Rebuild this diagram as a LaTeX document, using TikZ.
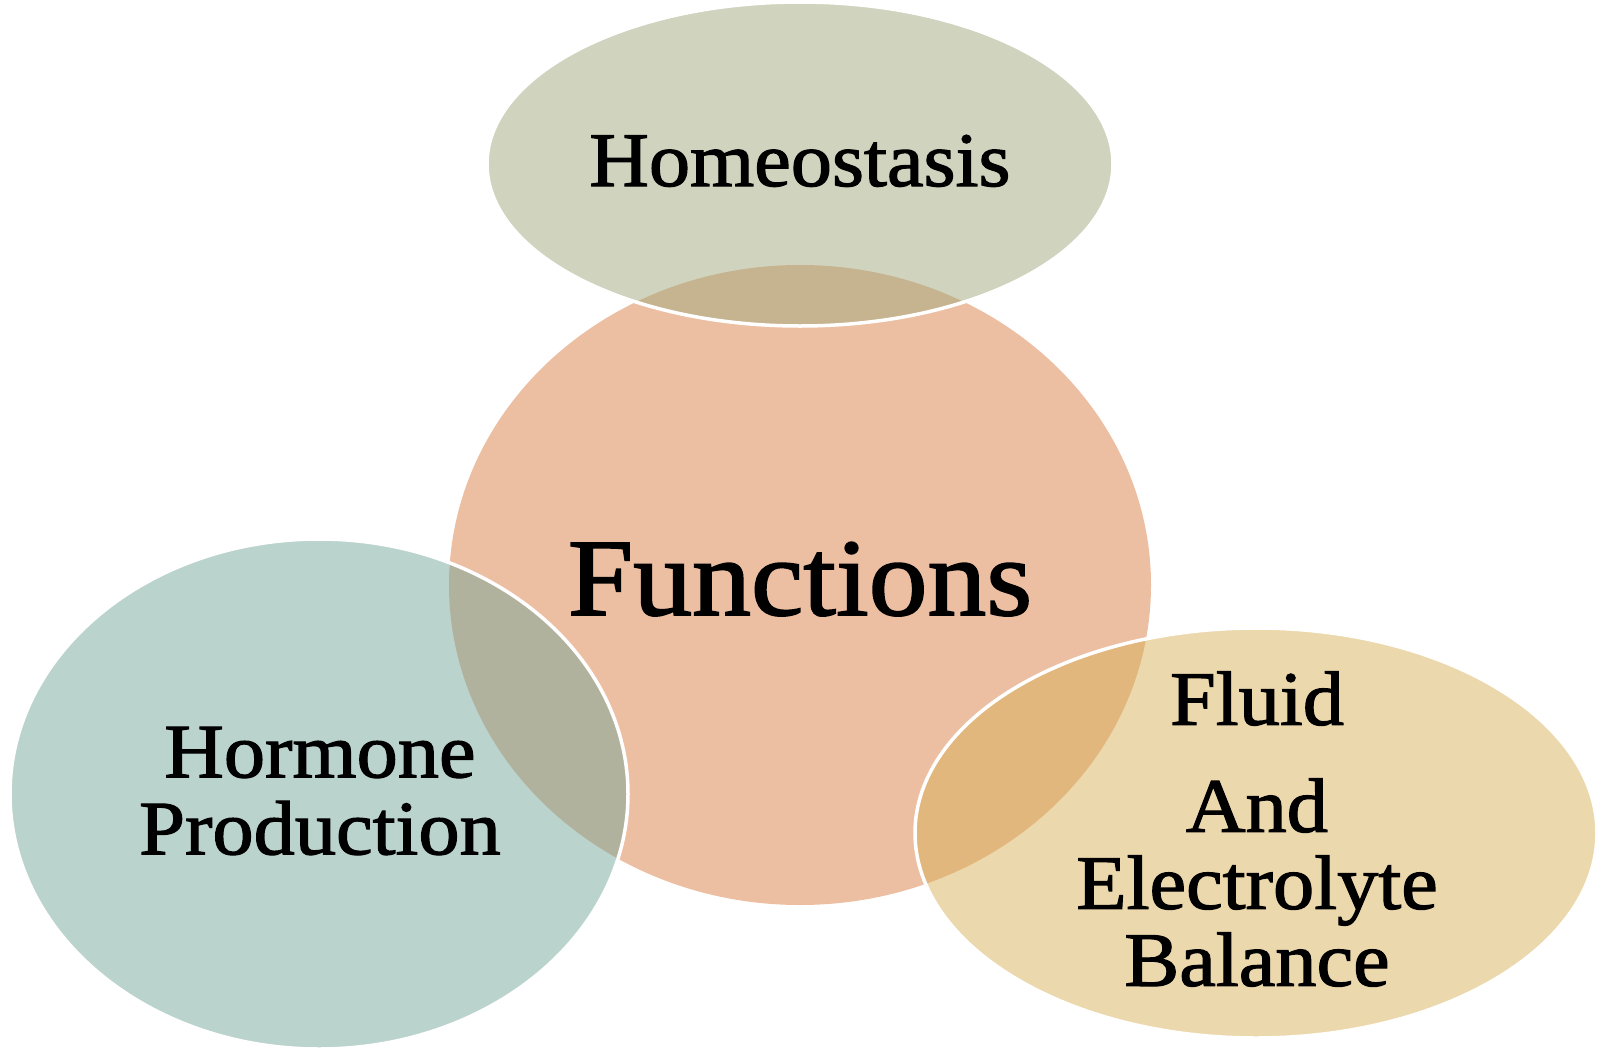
\documentclass[tikz,border=0pt]{standalone}
\usepackage{fontspec}
\setmainfont{Liberation Serif}[FakeStretch=1.07,FakeBold=1.6]
\usetikzlibrary{shapes.geometric}

\definecolor{homeocol}{RGB}{161,169,125}
\definecolor{funccol}{RGB}{236,190,162}
\definecolor{hormcol}{RGB}{119,167,155}
\definecolor{fluidcol}{RGB}{217,177,91}

\begin{document}
\begin{tikzpicture}[x=0.5pt,y=-0.5pt,
  blob/.style={ellipse,inner sep=0pt,draw=white,line width=1.75pt,fill opacity=0.5,draw opacity=1},
  lbl/.style={align=center,inner sep=0pt,font=\fontsize{38.5pt}{38.5pt}\selectfont}]
\useasboundingbox (0,0) rectangle (1608,1050);

% the big one first, the others lie over it
\node[ellipse,inner sep=0pt,fill=funccol,minimum width=351pt,minimum height=320pt] (func) at (800,585) {};
\node[blob,fill=homeocol,minimum width=313pt,minimum height=162pt] (homeo) at (800,164) {};
\node[blob,fill=hormcol,minimum width=309pt,minimum height=255pt] (horm) at (319,794) {};
\node[blob,fill=fluidcol,minimum width=341pt,minimum height=205pt] (fluid) at (1256,833) {};

\node[lbl,anchor=base] (homeotxt) at (800,186) {Homeostasis};
\node[lbl,anchor=base,font=\fontsize{55pt}{55pt}\selectfont] (functxt) at (800,615) {Functions};
\node[lbl] (hormtxt) at (320,791) {Hormone\\Production};
\node[lbl] (fluidtxt) at (1257,829) {Fluid\\[15pt]And\\Electrolyte\\Balance};

\end{tikzpicture}
\end{document}
